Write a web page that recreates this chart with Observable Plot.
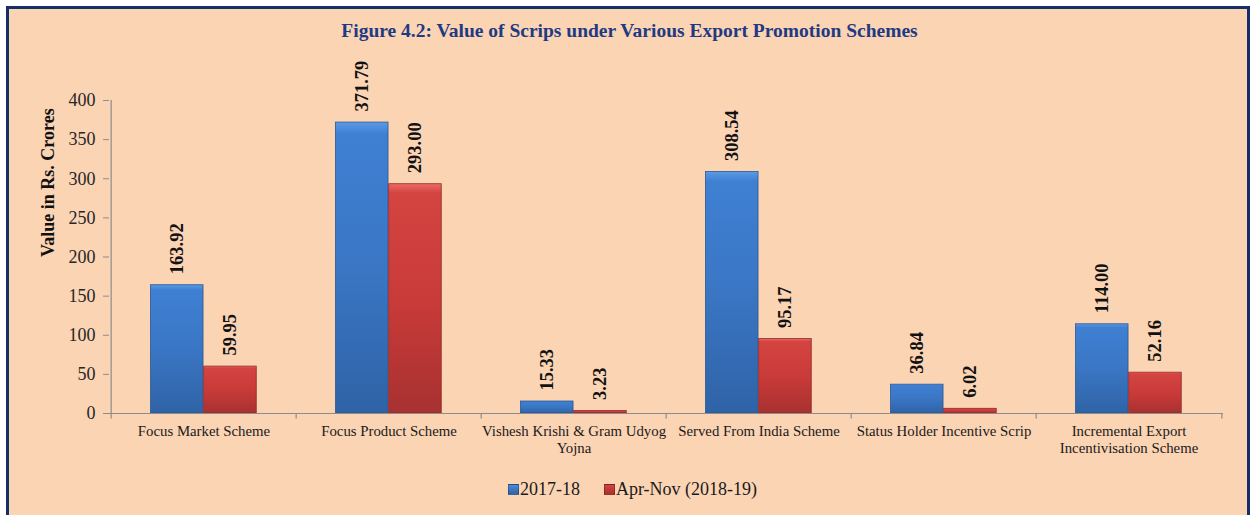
<!DOCTYPE html>
<html>
<head>
<meta charset="utf-8">
<script src="https://cdn.jsdelivr.net/npm/d3@7"></script>
<script src="https://cdn.jsdelivr.net/npm/@observablehq/plot@0.6"></script>
<style>
  html, body { margin: 0; padding: 0; background: #ffffff; width: 1253px; height: 515px; overflow: hidden; }
  #frame { position: absolute; left: 6px; top: 6px; width: 1238px; height: 520px; border: 3px solid #142F6A; background: #FBD4B4; }
  #title { position: absolute; left: 0; top: 20px; width: 1259px; text-align: center; font: bold 19.5px "Liberation Serif", "Times New Roman", serif; color: #1F3A82; }
  #chart { position: absolute; left: 0; top: 0; }
  #legend { position: absolute; left: 0; top: 479px; width: 1265px; text-align: center; font: 18px "Liberation Serif", "Times New Roman", serif; color: #1a1a1a; }
  #legend span.item { display: inline-block; margin: 0 12px; }
  #legend span.sw { display: inline-block; width: 11px; height: 11px; margin-right: 1px; vertical-align: 0px; border: 1px solid rgba(0,0,0,0.25); box-sizing: border-box; }
</style>
</head>
<body>
<div id="frame"></div>
<div id="title">Figure 4.2: Value of Scrips under Various Export Promotion Schemes</div>
<div id="chart"></div>
<div id="legend"></div>
<script>
const categories = [
  "Focus Market Scheme",
  "Focus Product Scheme",
  "Vishesh Krishi & Gram Udyog Yojna",
  "Served From India Scheme",
  "Status Holder Incentive Scrip",
  "Incremental Export Incentivisation Scheme"
];
const tickLabels = [
  "Focus Market Scheme",
  "Focus Product Scheme",
  "Vishesh Krishi & Gram Udyog\nYojna",
  "Served From India Scheme",
  "Status Holder Incentive Scrip",
  "Incremental Export\nIncentivisation Scheme"
];
const seriesNames = ["2017-18", "Apr-Nov (2018-19)"];
const values2017 = [163.92, 371.79, 15.33, 308.54, 36.84, 114.00];
const values2018 = [59.95, 293.00, 3.23, 95.17, 6.02, 52.16];
const yTicks = [0, 50, 100, 150, 200, 250, 300, 350, 400];

const s1 = categories.map((c, i) => ({cat: c, value: values2017[i]}));
const s2 = categories.map((c, i) => ({cat: c, value: values2018[i]}));
const labelOf = new Map(categories.map((c, i) => [c, tickLabels[i]]));

const W = 1253, ML = 109, MR = 30;
const bw = (W - ML - MR) / categories.length;
const gap = 39.5, barW = 53.2;
const serif = "'Liberation Serif', 'Times New Roman', serif";
const axisColor = "#8C8C8C";

const svg = Plot.plot({
  width: W,
  height: 470,
  marginLeft: ML,
  marginRight: MR,
  marginTop: 100,
  marginBottom: 57,
  style: {background: "transparent", fontFamily: serif, overflow: "visible"},
  x: {domain: categories, padding: 0, axis: null},
  y: {domain: [0, 400], axis: null},
  marks: [
    Plot.barY(s1, {x: "cat", y: "value", insetLeft: gap, insetRight: bw - gap - barW, fill: "url(#gBlue)", stroke: "#2A578F", strokeWidth: 0.8}),
    Plot.barY(s2, {x: "cat", y: "value", insetLeft: gap + barW, insetRight: bw - gap - 2 * barW, fill: "url(#gRed)", stroke: "#8E2A2A", strokeWidth: 0.8}),
    Plot.ruleY([0], {stroke: axisColor, strokeWidth: 1.2}),
    Plot.ruleX([categories[0]], {x: d => d, y1: 0, y2: 400, dx: -bw / 2, stroke: axisColor, strokeWidth: 1.2}),
    Plot.ruleX(categories, {x: d => d, y1: 0, y2: -7, dx: -bw / 2, stroke: axisColor, strokeWidth: 1.2}),
    Plot.ruleX([categories[categories.length - 1]], {x: d => d, y1: 0, y2: -7, dx: bw / 2, stroke: axisColor, strokeWidth: 1.2}),
    Plot.axisY({ticks: yTicks, tickSize: 6, tickPadding: 8, fontSize: 18, stroke: axisColor, color: "#262626", label: null, tickFormat: d => String(d)}),
    Plot.axisX({tickSize: 0, tickPadding: 10, fontSize: 14.8, lineHeight: 1.15, color: "#1a1a1a", label: null, tickFormat: d => labelOf.get(d)}),
    Plot.text(s1, {x: "cat", y: "value", text: d => d.value.toFixed(2), rotate: -90, textAnchor: "start", lineAnchor: "middle", dx: -bw / 2 + gap + barW / 2, dy: -11, fontSize: 18.5, fontWeight: "bold", fill: "#111"}),
    Plot.text(s2, {x: "cat", y: "value", text: d => d.value.toFixed(2), rotate: -90, textAnchor: "start", lineAnchor: "middle", dx: -bw / 2 + gap + barW * 1.5, dy: -11, fontSize: 18.5, fontWeight: "bold", fill: "#111"}),
    Plot.text(["Value in Rs. Crores"], {frameAnchor: "left", dx: -61, text: d => d, rotate: -90, fontSize: 18, fontWeight: "bold", fill: "#111"})
  ]
});

const ns = "http://www.w3.org/2000/svg";
const defs = document.createElementNS(ns, "defs");
function grad(id, stops) {
  const g = document.createElementNS(ns, "linearGradient");
  g.setAttribute("id", id);
  g.setAttribute("x1", "0"); g.setAttribute("y1", "0");
  g.setAttribute("x2", "0"); g.setAttribute("y2", "1");
  for (const [o, c] of stops) {
    const s = document.createElementNS(ns, "stop");
    s.setAttribute("offset", o);
    s.setAttribute("stop-color", c);
    g.appendChild(s);
  }
  defs.appendChild(g);
}
grad("gBlue", [["0", "#5A9AE6"], ["0.04", "#3F80D3"], ["0.5", "#3A76C4"], ["1", "#2F63A6"]]);
grad("gRed", [["0", "#EE6A66"], ["0.04", "#D44441"], ["0.5", "#C93B39"], ["1", "#A83131"]]);
svg.insertBefore(defs, svg.firstChild);
document.getElementById("chart").appendChild(svg);

document.getElementById("legend").innerHTML = seriesNames.map((n, i) =>
  `<span class="item"><span class="sw" style="background:linear-gradient(${i ? "#D44441,#A83131" : "#4A8AD8,#2F63A6"})"></span>${n}</span>`
).join("");
</script>
</body>
</html>
